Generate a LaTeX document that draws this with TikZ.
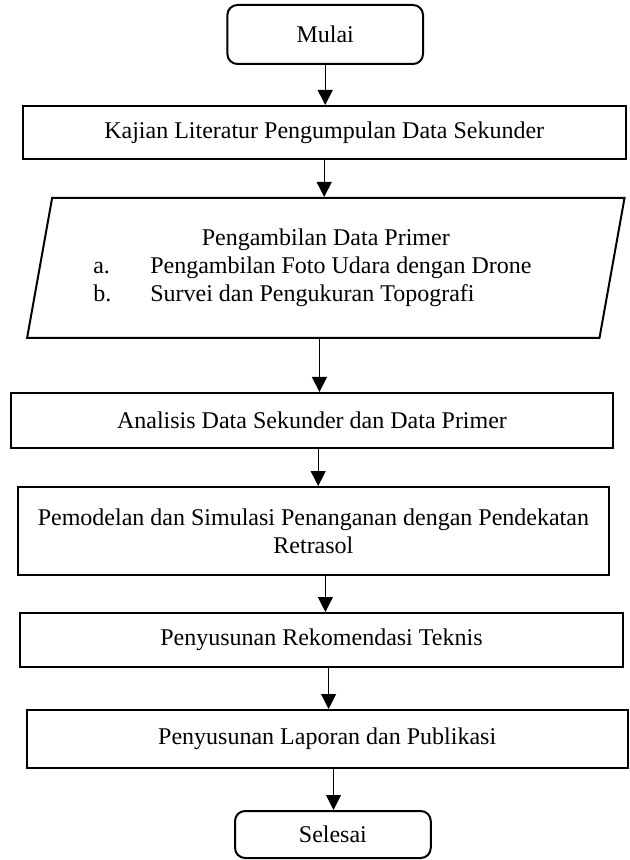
\documentclass[tikz,border=0pt]{standalone}
\usepackage{fontspec}
\setmainfont{Liberation Serif}
\usetikzlibrary{arrows.meta,shapes.geometric}
\definecolor{ink}{HTML}{000000}
\newcommand{\primitem}[2]{\makebox[232.5pt][l]{\makebox[28.5pt][l]{#1}#2}}
\tikzset{
  % ---- flowchart boxes -------------------------------------------
  base/.style  = {draw=ink, line width=1pt, fill=white, text=ink,
                  inner sep=2pt, align=center,
                  font=\fontsize{12}{14}\selectfont},
  term/.style  = {base, rounded corners=5pt},
  proc/.style  = {base},
  io/.style    = {base, trapezium, trapezium stretches=true,
                  trapezium left angle=75.85, trapezium right angle=104.15},
  % ---- connectors ------------------------------------------------
  flow/.style  = {draw=ink, line width=.5pt,
                  -{Triangle[length=7.5pt,width=7.5pt]}},
}
\begin{document}
\begin{tikzpicture}[x=0.5pt, y=-0.5pt]
\useasboundingbox (0,0) rectangle (630,860);
\node[term, minimum width=97.8pt, minimum height=29.5pt] (mulai) at (325.2, 34.5) {Mulai};
\node[proc, minimum width=301.3pt, minimum height=26.5pt] (kajian) at (324.2, 132.5) {Kajian Literatur Pengumpulan Data Sekunder};
\node[io, minimum width=299.75pt, minimum height=70pt] (primer) at (325.8, 268) {Pengambilan Data Primer\\
  \primitem{a.}{Pengambilan Foto Udara dengan Drone}\\
  \primitem{b.}{Survei dan Pengukuran Topografi}};
\node[proc, minimum width=300.75pt, minimum height=27.5pt] (analisis) at (312.0, 420.5) {Analisis Data Sekunder dan Data Primer};
\node[proc, minimum width=295.35pt, minimum height=44pt] (pemodelan) at (313.4, 531) {Pemodelan dan Simulasi Penanganan dengan Pendekatan\\Retrasol};
\node[proc, minimum width=301.35pt, minimum height=27pt] (rekomendasi) at (321.4, 640) {Penyusunan Rekomendasi Teknis};
\node[proc, minimum width=300.35pt, minimum height=29pt] (laporan) at (327.2, 739) {Penyusunan Laporan dan Publikasi};
\node[term, minimum width=97.85pt, minimum height=23.5pt] (selesai) at (332.9, 834.5) {Selesai};
% arrows
\draw[flow] (mulai.south) -- (mulai.south |- kajian.north);
\draw[flow] (kajian.south) -- (kajian.south |- primer.north);
\draw[flow] ([xshift=-3.2pt]primer.south) -- ([xshift=-3.2pt]primer.south |- analisis.north);
\draw[flow] ([xshift=3.1pt]analisis.south) -- ([xshift=3.1pt]analisis.south |- pemodelan.north);
\draw[flow] ([xshift=6pt]pemodelan.south) -- ([xshift=6pt]pemodelan.south |- rekomendasi.north);
\draw[flow] ([xshift=3.6pt]rekomendasi.south) -- ([xshift=3.6pt]rekomendasi.south |- laporan.north);
\draw[flow] ([xshift=3.15pt]laporan.south) -- ([xshift=3.15pt]laporan.south |- selesai.north);
\end{tikzpicture}
\end{document}
